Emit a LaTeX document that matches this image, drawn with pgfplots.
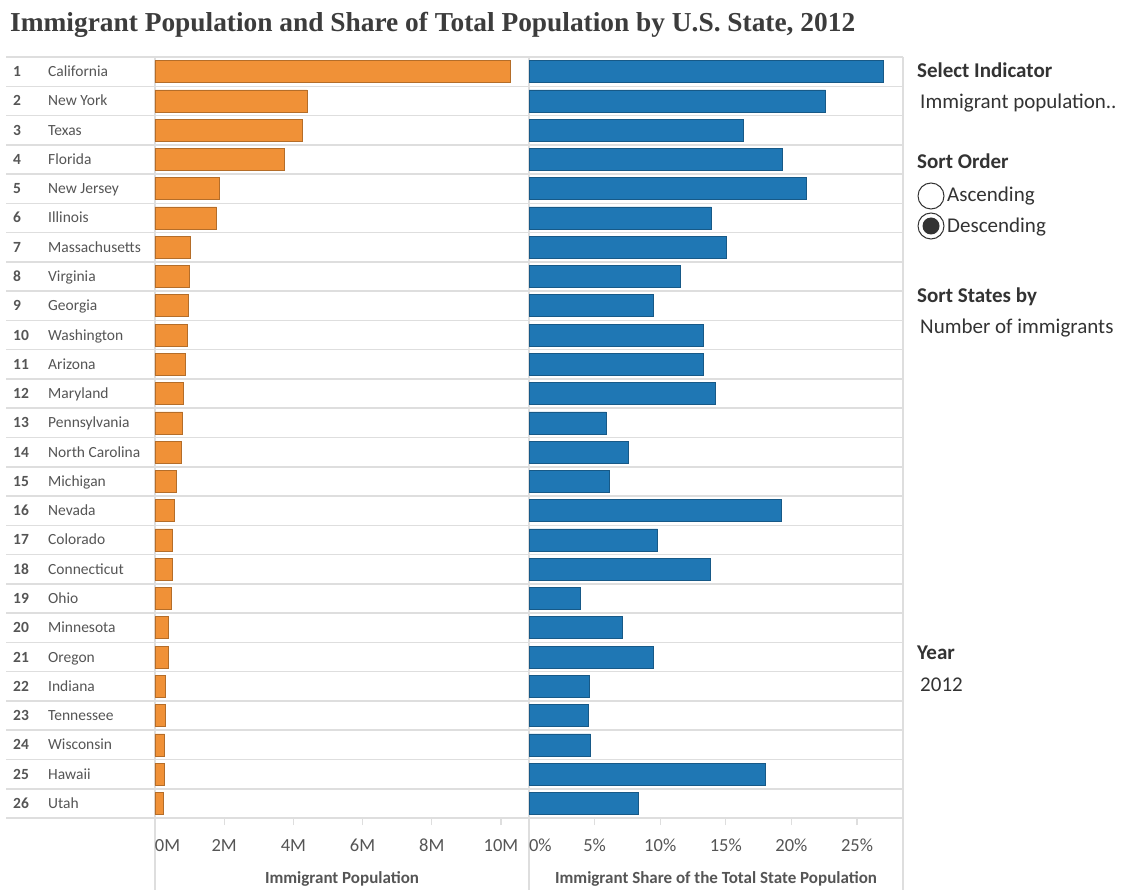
\documentclass[border=0pt]{standalone}
\usepackage{pgfplots}
\pgfplotsset{compat=1.18}
\usepackage{fontspec}
\setmainfont{Carlito}
\newfontfamily\titlefont{Liberation Serif}
\definecolor{tOrange}{RGB}{240,145,55}
\definecolor{tBlue}{RGB}{31,119,180}
\definecolor{gridc}{RGB}{222,222,222}
\definecolor{txt}{RGB}{85,85,85}
\definecolor{dark}{RGB}{51,51,51}
\definecolor{titlec}{RGB}{60,60,60}

\pgfplotsset{
  panel/.style={
    anchor=north west,
    width=374pt, height=761pt, scale only axis,
    ymin=0.5, ymax=26.5, xmin=0,
    axis line style={draw=none},
    xbar, bar width=22pt,
    xtick pos=left,
    major tick length=7pt, tick align=outside,
    xtick style={gridc, line width=1.2pt},
    ytick style={draw=none},
    xticklabel style={anchor=base, yshift=-26pt, font=\fontsize{18.5}{18.5}\selectfont, text=txt, inner sep=0pt},
    xlabel style={at={(axis description cs:0.5,0)}, anchor=base, yshift=-65pt, font=\bfseries\fontsize{17}{17}\selectfont, text=txt, inner sep=0pt},
    clip=false,
  }
}

\begin{document}
\begin{tikzpicture}
\useasboundingbox (0pt,0pt) rectangle (1122pt,-890pt);
\fill[white] (0pt,0pt) rectangle (1122pt,-890pt);

\node[anchor=base west, inner sep=0pt, text=titlec] at (10pt,-32pt)
  {\resizebox{845pt}{!}{\titlefont\bfseries\fontsize{25}{25}\selectfont Immigrant Population and Share of Total Population by U.S. State, 2012}};

\foreach \k in {0,...,26} {
  \draw[gridc, line width=1.5pt] (6pt,{-57pt-\k*29.27pt}) -- (903pt,{-57pt-\k*29.27pt});
}
\foreach \x in {155,529,903} {
  \draw[gridc, line width=1.5pt] (\x pt,-57pt) -- (\x pt,-890pt);
}

\begin{axis}[panel,
  at={(155pt,-57pt)},
  xmax=10.81,
  xtick={0,2,4,6,8,10},
  xticklabels={\makebox[0pt][l]{0M},2M,4M,6M,8M,10M},
  xlabel={Immigrant Population},
  ytick={1,...,26},
  yticklabels={
    {\makebox[35pt][l]{\textbf{26}}Utah},
    {\makebox[35pt][l]{\textbf{25}}Hawaii},
    {\makebox[35pt][l]{\textbf{24}}Wisconsin},
    {\makebox[35pt][l]{\textbf{23}}Tennessee},
    {\makebox[35pt][l]{\textbf{22}}Indiana},
    {\makebox[35pt][l]{\textbf{21}}Oregon},
    {\makebox[35pt][l]{\textbf{20}}Minnesota},
    {\makebox[35pt][l]{\textbf{19}}Ohio},
    {\makebox[35pt][l]{\textbf{18}}Connecticut},
    {\makebox[35pt][l]{\textbf{17}}Colorado},
    {\makebox[35pt][l]{\textbf{16}}Nevada},
    {\makebox[35pt][l]{\textbf{15}}Michigan},
    {\makebox[35pt][l]{\textbf{14}}North Carolina},
    {\makebox[35pt][l]{\textbf{13}}Pennsylvania},
    {\makebox[35pt][l]{\textbf{12}}Maryland},
    {\makebox[35pt][l]{\textbf{11}}Arizona},
    {\makebox[35pt][l]{\textbf{10}}Washington},
    {\makebox[35pt][l]{\textbf{9}}Georgia},
    {\makebox[35pt][l]{\textbf{8}}Virginia},
    {\makebox[35pt][l]{\textbf{7}}Massachusetts},
    {\makebox[35pt][l]{\textbf{6}}Illinois},
    {\makebox[35pt][l]{\textbf{5}}New Jersey},
    {\makebox[35pt][l]{\textbf{4}}Florida},
    {\makebox[35pt][l]{\textbf{3}}Texas},
    {\makebox[35pt][l]{\textbf{2}}New York},
    {\makebox[35pt][l]{\textbf{1}}California}},
  yticklabel style={anchor=base west, xshift=-135pt, yshift=-5pt, inner sep=0pt, font=\fontsize{15.5}{15.5}\selectfont, text=txt},
]
\addplot[fill=tOrange, draw=tOrange!75!black, line width=0.6pt] coordinates {
  (0.25,1) (0.26,2) (0.28,3) (0.30,4) (0.30,5) (0.38,6) (0.39,7) (0.47,8)
  (0.51,9) (0.51,10) (0.55,11) (0.62,12) (0.76,13) (0.80,14) (0.83,15)
  (0.88,16) (0.92,17) (0.97,18) (0.98,19) (1.01,20) (1.78,21) (1.87,22)
  (3.74,23) (4.26,24) (4.40,25) (10.27,26)
};
\end{axis}

\begin{axis}[panel,
  at={(529pt,-57pt)},
  xmax=28.5,
  xtick={0,5,10,15,20,25},
  xticklabels={\makebox[0pt][l]{0\%},5\%,10\%,15\%,20\%,25\%},
  xlabel={Immigrant Share of the Total State Population},
  ytick=\empty,
]
\addplot[fill=tBlue, draw=tBlue!75!black, line width=0.6pt] coordinates {
  (8.3,1) (18.0,2) (4.7,3) (4.5,4) (4.6,5) (9.5,6) (7.1,7) (3.9,8)
  (13.8,9) (9.8,10) (19.2,11) (6.1,12) (7.6,13) (5.9,14) (14.2,15)
  (13.3,16) (13.3,17) (9.5,18) (11.5,19) (15.0,20) (13.9,21) (21.1,22)
  (19.3,23) (16.3,24) (22.6,25) (27.0,26)
};
\end{axis}

% controls
\begin{scope}[every node/.style={anchor=base west, inner sep=0pt, font=\fontsize{21}{21}\selectfont}]
\node[text=dark, font=\bfseries\fontsize{21}{21}\selectfont] at (917pt,-78pt) {Select Indicator};
\node[text=dark] at (920pt,-109pt) {Immigrant population..};
\node[text=dark, font=\bfseries\fontsize{21}{21}\selectfont] at (917pt,-169pt) {Sort Order};
\node[text=dark] at (947pt,-202pt) {Ascending};
\node[text=dark] at (947pt,-233pt) {Descending};
\node[text=dark, font=\bfseries\fontsize{21}{21}\selectfont] at (917pt,-303pt) {Sort States by};
\node[text=dark] at (920pt,-334pt) {Number of immigrants};
\node[text=dark, font=\bfseries\fontsize{21}{21}\selectfont] at (917pt,-659pt) {Year};
\node[text=dark] at (920pt,-691pt) {2012};
\end{scope}
\draw[dark, line width=1pt, fill=white] (931pt,-196pt) circle (13pt);
\draw[dark, line width=1pt, fill=white] (931pt,-226pt) circle (13pt);
\fill[dark] (931pt,-226pt) circle (8.5pt);
\end{tikzpicture}
\end{document}
